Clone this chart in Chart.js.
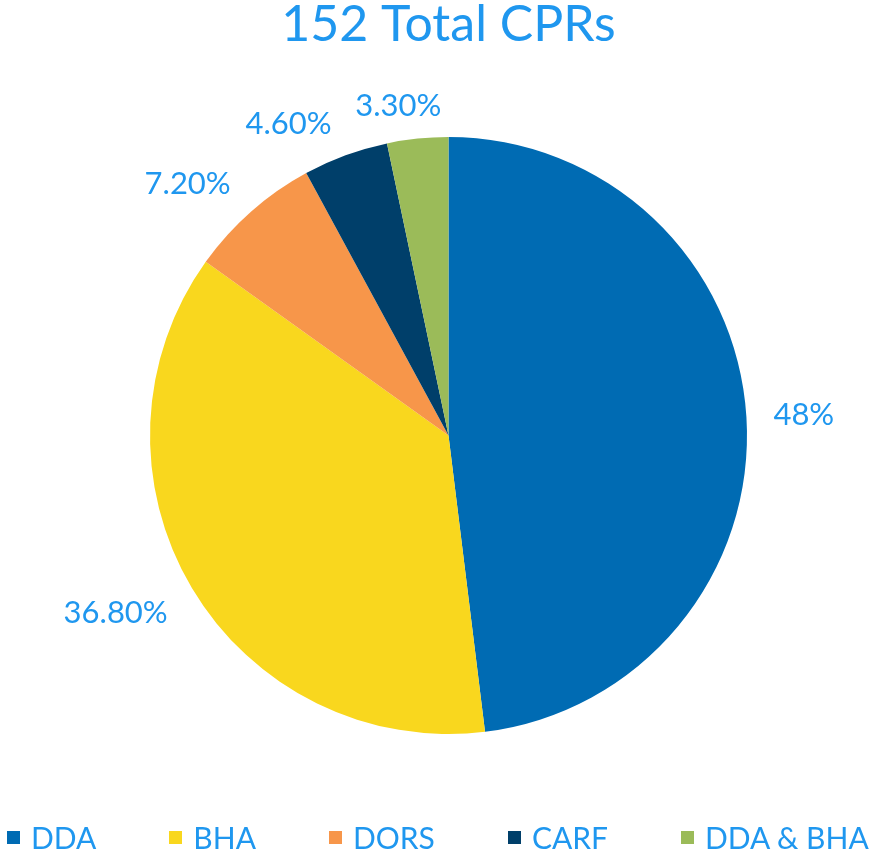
<!DOCTYPE html>
<html>
<head>
<meta charset="utf-8">
<script src="https://cdn.jsdelivr.net/npm/chart.js@4"></script>
<style>
  html, body { margin: 0; padding: 0; background: #ffffff; }
  #wrap { position: relative; width: 879px; height: 851px; overflow: hidden; }
  #legend {
    position: absolute; left: 7px; top: 823px;
    display: flex; align-items: center; gap: 73px;
    font-family: Lato, sans-serif; font-size: 30px; line-height: 29px;
    color: #1f97ef; white-space: nowrap;
  }
  .item { display: flex; align-items: center; }
  .swatch { width: 13px; height: 13px; margin-right: 11px; }
</style>
</head>
<body>
<div id="wrap">
  <canvas id="cprChart" width="879" height="851"></canvas>
  <div id="legend"></div>
</div>
<script>
const categories = ["DDA", "BHA", "DORS", "CARF", "DDA & BHA"];
const shares = [48, 36.8, 7.2, 4.6, 3.3];
const shareLabels = ["48%", "36.80%", "7.20%", "4.60%", "3.30%"];
const sliceColors = ["#006bb3", "#f9d71e", "#f7964a", "#003f6a", "#9bbb59"];
const textColor = "#1f97ef";

// outside-end labels, roughly the way the original spreadsheet placed them
const outsideLabels = {
  id: "outsideLabels",
  afterDatasetsDraw(chart) {
    const ctx = chart.ctx;
    const arcs = chart.getDatasetMeta(0).data;
    ctx.save();
    ctx.font = "31px Lato";
    ctx.fillStyle = textColor;
    ctx.textAlign = "center";
    ctx.textBaseline = "alphabetic";
    arcs.forEach((arc, i) => {
      const mid = (arc.startAngle + arc.endAngle) / 2;
      const ux = Math.cos(mid);
      const uy = Math.sin(mid);
      const r = arc.outerRadius + 20;
      const w = ctx.measureText(shareLabels[i]).width;
      const clamp = (v) => Math.max(-1, Math.min(1, v));
      const cx = arc.x + ux * r + (w / 2 + 7) * clamp(ux / 0.3);
      const cy = arc.y + uy * r + 14 * clamp(uy / 0.5);
      ctx.fillText(shareLabels[i], cx, cy + 11);
    });
    ctx.restore();
  }
};

function buildLegend() {
  const box = document.getElementById("legend");
  categories.forEach((name, i) => {
    const item = document.createElement("div");
    item.className = "item";
    const sw = document.createElement("span");
    sw.className = "swatch";
    sw.style.background = sliceColors[i];
    const txt = document.createElement("span");
    txt.textContent = name;
    item.appendChild(sw);
    item.appendChild(txt);
    box.appendChild(item);
  });
}

buildLegend();

new Chart(document.getElementById("cprChart"), {
  type: "pie",
  data: {
    labels: categories,
    datasets: [{
      data: shares,
      backgroundColor: sliceColors,
      borderWidth: 0
    }]
  },
  options: {
    responsive: false,
    animation: false,
    layout: { padding: { left: 18, right: 0, top: 0, bottom: 117 } },
    plugins: {
      legend: { display: false },
      tooltip: { enabled: false },
      title: {
        display: true,
        text: "152 Total CPRs",
        color: textColor,
        font: { family: "Lato", size: 50, weight: "normal", lineHeight: 1 },
        padding: { top: 0, bottom: 87 }
      }
    }
  },
  plugins: [outsideLabels]
});
</script>
</body>
</html>
